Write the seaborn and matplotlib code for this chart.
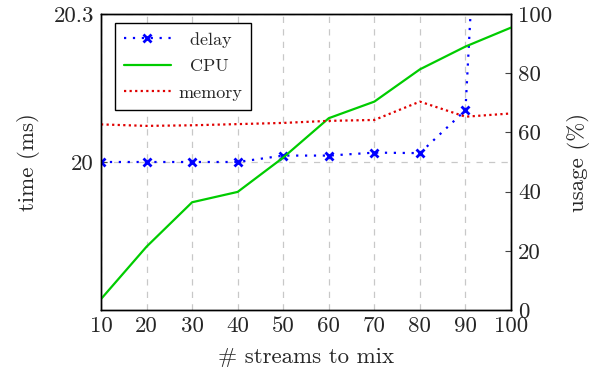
import matplotlib
matplotlib.use("Agg")
import matplotlib.pyplot as plt
import seaborn as sns
import pandas as pd

# streams mixed
streams = [10, 20, 30, 40, 50, 60, 70, 80, 90, 100]
# mixing delay in ms
delay_ms = [20.0, 20.0, 20.0, 20.0, 20.013, 20.013, 20.019, 20.018, 20.105, 21.86]
# CPU usage in %
cpu_pct = [3.7, 21.4, 36.4, 39.9, 51.5, 64.8, 70.4, 81.3, 89.0, 95.4]
# memory usage in %
mem_pct = [62.7, 62.2, 62.4, 62.8, 63.2, 63.9, 64.2, 70.4, 65.3, 66.4]

df = pd.DataFrame({"streams": streams, "delay": delay_ms, "cpu": cpu_pct, "mem": mem_pct})

sns.set_style("white")
plt.rcParams["font.family"] = ["cmr10", "DejaVu Serif"]
plt.rcParams["axes.formatter.use_mathtext"] = True
plt.rcParams["mathtext.fontset"] = "cm"

fig = plt.figure(figsize=(5.92, 3.75), dpi=100)
ax = fig.add_axes([0.1706, 0.1733, 0.6926, 0.7894])
ax2 = ax.twinx()

blue = "#0000ff"
green = "#00cc00"
red = "#e00000"

sns.lineplot(data=df, x="streams", y="delay", ax=ax, color=blue, linestyle=(0, (1, 3)),
             linewidth=1.6, marker="x", markersize=6, markeredgewidth=2,
             markeredgecolor=blue, label="delay", legend=False)
sns.lineplot(data=df, x="streams", y="cpu", ax=ax2, color=green, linewidth=1.6,
             label="CPU", legend=False)
sns.lineplot(data=df, x="streams", y="mem", ax=ax2, color=red, linestyle=(0, (1, 1.5)),
             linewidth=1.6, label="memory", legend=False)

ax.set_xlim(10, 100)
ax.set_ylim(19.7, 20.3)
ax.set_xticks(streams)
ax.set_xticklabels([str(s) for s in streams])
ax.set_yticks([20, 20.3])
ax.set_yticklabels(["20", "20.3"])
ax2.set_ylim(0, 100)
ax2.set_yticks([0, 20, 40, 60, 80, 100])
ax2.set_yticklabels(["0", "20", "40", "60", "80", "100"])

ax.grid(True, color="#c8c8c8", linestyle=(0, (5, 5)), linewidth=0.9)
ax.set_axisbelow(True)

for a in (ax, ax2):
    for s in a.spines.values():
        s.set_color("black")
        s.set_linewidth(1.0)
fs = 16.5
ax.tick_params(axis="both", direction="in", length=4, width=0.8, labelsize=fs, color="#444444", pad=5)
ax2.tick_params(axis="y", direction="in", length=4, width=0.8, labelsize=fs, color="#444444", pad=5)

ax.set_xlabel("# streams to mix", fontsize=fs, labelpad=8)
ax.set_ylabel("time (ms)", fontsize=fs, labelpad=10)
ax2.set_ylabel("usage (%)", fontsize=fs, labelpad=11)

h1, l1 = ax.get_legend_handles_labels()
h2, l2 = ax2.get_legend_handles_labels()
# labels padded so the three entries sit centred in their column
labels = ["  delay", "  CPU", "memory"]
leg = ax2.legend(h1 + h2, labels, loc="upper left", bbox_to_anchor=(0.034, 0.97),
                 borderaxespad=0, fontsize=13, frameon=True, fancybox=False,
                 edgecolor="black", framealpha=1, handlelength=2.6, handletextpad=0.4,
                 borderpad=0.5, labelspacing=0.6)
leg.get_frame().set_linewidth(1.0)

fig.savefig("out.png", dpi=100)
